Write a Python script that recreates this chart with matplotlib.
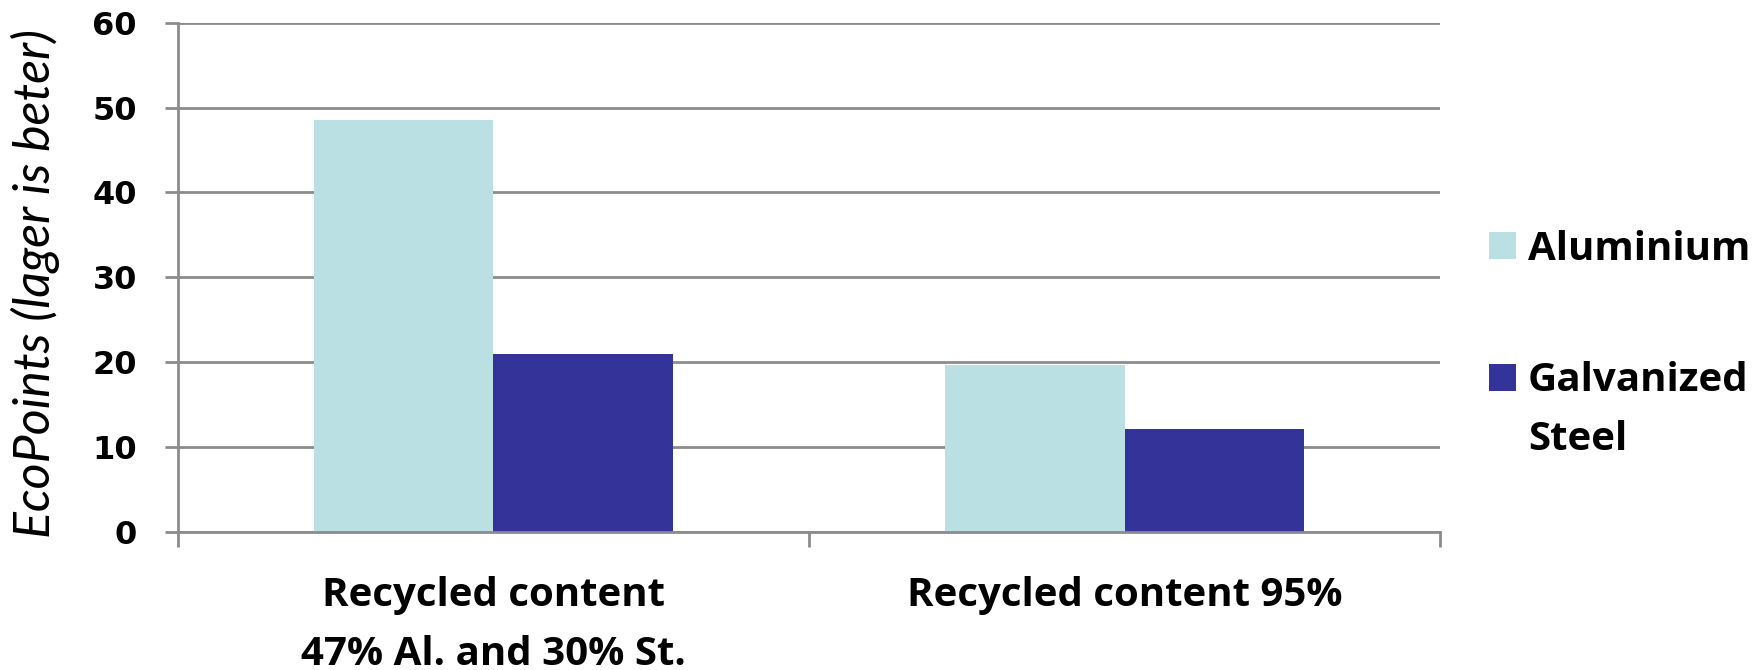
import matplotlib
matplotlib.use('Agg')
import matplotlib.pyplot as plt
from matplotlib.patches import Rectangle
import numpy as np

# data
categories = ['Recycled content\n47% Al. and 30% St.', 'Recycled content 95%']
aluminium = [48.6, 19.6]
steel = [21.0, 12.1]
series_names = ['Aluminium', 'Galvanized\nSteel']
y_ticks = [0, 10, 20, 30, 40, 50, 60]

col_al = '#BBE0E3'
col_st = '#333399'
grid_col = '#8C8C8C'

W, H = 1762, 670
fig = plt.figure(figsize=(W / 100, H / 100), dpi=100)
ax = fig.add_axes([0.101, 0.2067, 0.7163, 0.759])

x = np.arange(len(categories))
w = 0.285
ax.bar(x - w, aluminium, width=w, align='edge', color=col_al, zorder=3)
ax.bar(x, steel, width=w, align='edge', color=col_st, zorder=3)

ax.set_xlim(-0.5, len(categories) - 0.5)
ax.set_ylim(0, 60)
ax.set_yticks(y_ticks, labels=[str(v) for v in y_ticks],
              fontfamily='DejaVu Sans', fontweight='bold', fontsize=23)
ax.yaxis.grid(True, color=grid_col, linewidth=2, zorder=0)
ax.set_axisbelow(True)

for s in ['top', 'right', 'bottom']:
    ax.spines[s].set_visible(False)
ax.spines['left'].set_color(grid_col)
ax.spines['left'].set_linewidth(2)

ax.tick_params(axis='y', length=9.5, width=2, color=grid_col, pad=20)

# category ticks: labels at centres, tick marks at boundaries
ax.set_xticks(x, labels=categories, fontfamily='Open Sans', fontweight='bold',
              fontsize=29, linespacing=1.66)
ax.tick_params(axis='x', length=0, pad=32)
ax.set_xticks(np.arange(len(categories) + 1) - 0.5, minor=True)
ax.tick_params(axis='x', which='minor', length=11, width=2, color=grid_col)
ax.axhline(0, color=grid_col, linewidth=2, zorder=4, clip_on=False)

fig.text(35 / W, 1 - 284 / H, 'EcoPoints (lager is beter)',
         rotation=90, ha='center', va='center', fontfamily='Lato',
         fontstyle='italic', fontsize=36)

# legend drawn by hand: square aligned with first text line
sq = 27
leg_x = 1489
line_gap = 58
leg_rows = [(232, 260), (364, 392)]  # square top, first baseline (px from top)
for (top, base), name, col in zip(leg_rows, series_names, [col_al, col_st]):
    fig.patches.append(Rectangle((leg_x / W, 1 - (top + sq) / H), sq / W, sq / H,
                                 transform=fig.transFigure, facecolor=col,
                                 edgecolor='none'))
    last_base = base + line_gap * name.count('\n')
    fig.text(1528 / W, 1 - last_base / H, name, ha='left', va='baseline',
             fontfamily='Open Sans', fontweight='bold', fontsize=29,
             linespacing=1.66)

fig.savefig('out.png', dpi=100)
